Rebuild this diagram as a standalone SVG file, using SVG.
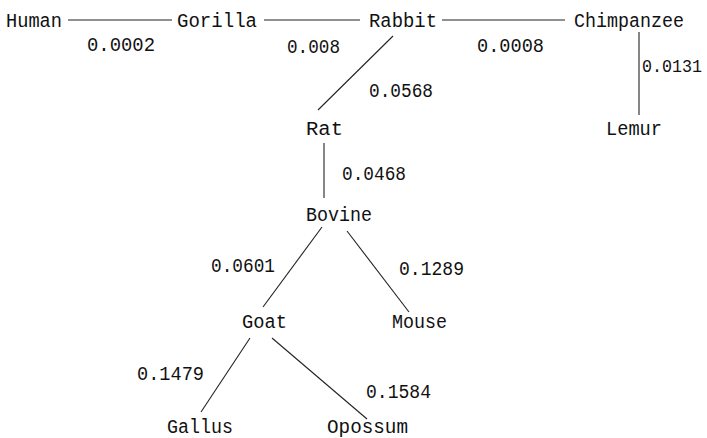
<svg xmlns="http://www.w3.org/2000/svg" width="707" height="438" viewBox="0 0 707 438">
  <style>
    .bg { fill: #ffffff; }
    .edge { stroke: #222222; stroke-width: 1.1; fill: none; }
    .name, .dist { font-family: "Liberation Mono", "DejaVu Sans Mono", monospace; font-size: 20px; fill: #111111; }
    .tight { font-size: 17.5px; }
  </style>
  <rect class="bg" x="0" y="0" width="707" height="438"/>

  <!-- tree branches -->
  <g id="connectors">
    <line class="edge" x1="68" y1="20" x2="172" y2="20"/>
    <line class="edge" x1="264" y1="20" x2="360" y2="20"/>
    <line class="edge" x1="442" y1="20" x2="565" y2="20"/>
    <line class="edge" x1="639" y1="32" x2="639" y2="115"/>
    <line class="edge" x1="393" y1="36" x2="318" y2="110"/>
    <line class="edge" x1="324" y1="143" x2="324" y2="198"/>
    <line class="edge" x1="322" y1="227" x2="263" y2="307"/>
    <line class="edge" x1="347" y1="231" x2="409" y2="312"/>
    <line class="edge" x1="250" y1="338" x2="201" y2="412"/>
    <line class="edge" x1="272" y1="338" x2="367" y2="419"/>
  </g>

  <!-- branch lengths -->
  <g id="distances">
    <text class="dist" x="87" y="51" textLength="68" lengthAdjust="spacingAndGlyphs">0.0002</text>
    <text class="dist" x="287" y="53" textLength="53" lengthAdjust="spacingAndGlyphs">0.008</text>
    <text class="dist" x="477" y="52" textLength="67" lengthAdjust="spacingAndGlyphs">0.0008</text>
    <text class="dist tight" x="642" y="72" textLength="60" lengthAdjust="spacingAndGlyphs">0.0131</text>
    <text class="dist" x="369" y="97" textLength="64" lengthAdjust="spacingAndGlyphs">0.0568</text>
    <text class="dist" x="342" y="180" textLength="64" lengthAdjust="spacingAndGlyphs">0.0468</text>
    <text class="dist" x="211" y="272" textLength="64" lengthAdjust="spacingAndGlyphs">0.0601</text>
    <text class="dist" x="399" y="275" textLength="65" lengthAdjust="spacingAndGlyphs">0.1289</text>
    <text class="dist" x="137" y="380" textLength="67" lengthAdjust="spacingAndGlyphs">0.1479</text>
    <text class="dist" x="366" y="398" textLength="65" lengthAdjust="spacingAndGlyphs">0.1584</text>
  </g>

  <!-- taxa -->
  <g id="human"><text class="name" x="6" y="27" textLength="56" lengthAdjust="spacingAndGlyphs">Human</text></g>
  <g id="gorilla"><text class="name" x="177" y="27" textLength="80" lengthAdjust="spacingAndGlyphs">Gorilla</text></g>
  <g id="rabbit"><text class="name" x="369" y="27" textLength="68" lengthAdjust="spacingAndGlyphs">Rabbit</text></g>
  <g id="chimpanzee"><text class="name" x="574" y="27" textLength="110" lengthAdjust="spacingAndGlyphs">Chimpanzee</text></g>
  <g id="lemur"><text class="name" x="606" y="135" textLength="56" lengthAdjust="spacingAndGlyphs">Lemur</text></g>
  <g id="rat"><text class="name" x="306" y="135" textLength="37" lengthAdjust="spacingAndGlyphs">Rat</text></g>
  <g id="bovine"><text class="name" x="306" y="221" textLength="66" lengthAdjust="spacingAndGlyphs">Bovine</text></g>
  <g id="goat"><text class="name" x="242" y="328" textLength="45" lengthAdjust="spacingAndGlyphs">Goat</text></g>
  <g id="mouse"><text class="name" x="392" y="328" textLength="55" lengthAdjust="spacingAndGlyphs">Mouse</text></g>
  <g id="gallus"><text class="name" x="167" y="433" textLength="66" lengthAdjust="spacingAndGlyphs">Gallus</text></g>
  <g id="opossum"><text class="name" x="327" y="433" textLength="81" lengthAdjust="spacingAndGlyphs">Opossum</text></g>
</svg>
